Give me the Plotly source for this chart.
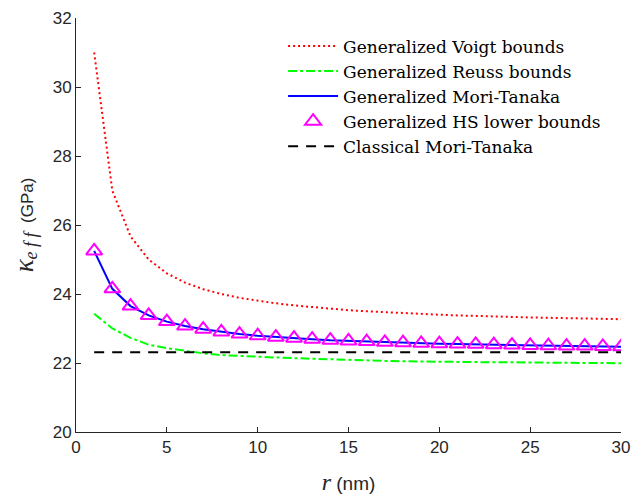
import plotly.graph_objects as go

# radius of inclusion (nm)
r = list(range(1, 31))

# effective bulk modulus (GPa)
voigt = [31.0, 27.0, 25.67, 25.0, 24.6, 24.33, 24.14, 24.0, 23.89, 23.8,
         23.73, 23.67, 23.62, 23.57, 23.53, 23.5, 23.47, 23.44, 23.42, 23.4,
         23.38, 23.36, 23.35, 23.33, 23.32, 23.31, 23.3, 23.29, 23.28, 23.27]
reuss = [23.43, 23.0, 22.73, 22.53, 22.43, 22.35, 22.28, 22.23, 22.2, 22.18,
         22.16, 22.14, 22.12, 22.1, 22.08, 22.07, 22.06, 22.05, 22.04, 22.04,
         22.03, 22.03, 22.02, 22.02, 22.01, 22.01, 22.0, 22.0, 22.0, 21.99]
mori_tanaka = [25.25, 24.15, 23.65, 23.38, 23.2, 23.07, 22.98, 22.9, 22.84, 22.79,
               22.75, 22.72, 22.69, 22.66, 22.64, 22.62, 22.6, 22.59, 22.57, 22.56,
               22.55, 22.54, 22.53, 22.52, 22.51, 22.5, 22.49, 22.49, 22.48, 22.47]
hs_lower = list(mori_tanaka)
classical_mt = [22.31] * len(r)

x_ticks = [0, 5, 10, 15, 20, 25, 30]
y_ticks = [20, 22, 24, 26, 28, 30, 32]

fig = go.Figure()
fig.add_trace(go.Scatter(x=r, y=voigt, mode="lines", name="Generalized Voigt bounds",
                         line=dict(color="#ff0000", width=2, dash="2px,3px")))
fig.add_trace(go.Scatter(x=r, y=reuss, mode="lines", name="Generalized Reuss bounds",
                         line=dict(color="#00ff00", width=2, dash="dashdot")))
fig.add_trace(go.Scatter(x=r, y=mori_tanaka, mode="lines", name="Generalized Mori-Tanaka",
                         line=dict(color="#0000ff", width=2)))
fig.add_trace(go.Scatter(x=r, y=hs_lower, mode="markers", name="Generalized HS lower bounds",
                         marker=dict(symbol="triangle-up-open", size=14, color="#ff00ff",
                                     line=dict(width=2, color="#ff00ff"))))
fig.add_trace(go.Scatter(x=r, y=classical_mt, mode="lines", name="Classical Mori-Tanaka",
                         line=dict(color="#000000", width=2, dash="10px,8px")))

axis_common = dict(
    showline=True, linecolor="#262626", linewidth=1,
    ticks="inside", ticklen=5, tickcolor="#262626",
    showgrid=False, zeroline=False, mirror=False, automargin=False,
    tickfont=dict(family="Liberation Sans, Arial", size=17, color="#262626"),
)

fig.update_xaxes(range=[0, 30], tickvals=x_ticks, **axis_common,
                 title=dict(text="<i><span style='font-family:Liberation Serif;font-size:24px'>r</span></i> (nm)",
                            font=dict(family="Liberation Sans, Arial", size=19, color="#262626"),
                            standoff=20))
fig.update_yaxes(range=[20, 32], tickvals=y_ticks, **axis_common,
                 title=dict(text="<i><span style='font-family:Liberation Serif;font-size:27px'>κ</span><sub><span style='font-family:Liberation Serif;font-size:18px'>e f f</span></sub></i>  (GPa)",
                            font=dict(family="Liberation Sans, Arial", size=17, color="#262626"),
                            standoff=14))

fig.update_layout(
    width=632, height=499,
    margin=dict(l=76, r=11, t=18, b=67),
    paper_bgcolor="white", plot_bgcolor="white",
    showlegend=True,
    legend=dict(x=0.38, y=0.975, xanchor="left", yanchor="top",
                bgcolor="rgba(255,255,255,0)", borderwidth=0,
                font=dict(family="DejaVu Serif", size=17, color="#000000"),
                tracegroupgap=0, itemwidth=50),
)

fig.write_html("out.html")
